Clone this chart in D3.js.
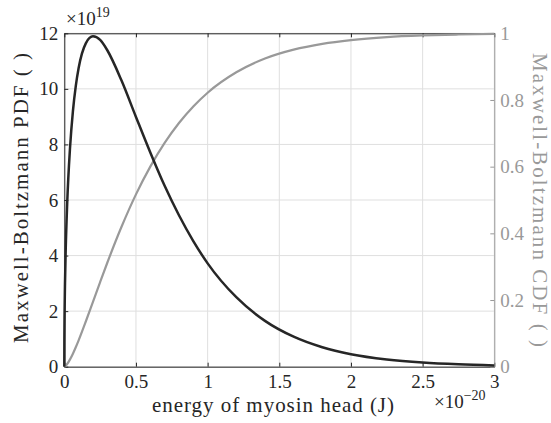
<!DOCTYPE html>
<html>
<head>
<meta charset="utf-8">
<script src="https://cdn.jsdelivr.net/npm/d3@7"></script>
<style>
  body { margin: 0; background: #fff; }
  text { font-family: "Liberation Serif", "DejaVu Serif", serif; }
  .lbl { white-space: pre; }
</style>
</head>
<body>
<div id="chart"></div>
<script>
// energy of myosin head, in units of 1e-20 J
var energy = [0, 0.0005, 0.002, 0.005, 0.01, 0.02, 0.04, 0.06, 0.08, 0.1, 0.15, 0.2, 0.25, 0.3,
  0.4, 0.5, 0.6, 0.7, 0.8, 0.9, 1.0, 1.2, 1.4, 1.6, 1.8, 2.0, 2.25, 2.5, 2.75, 3.0];
// PDF, in units of 1e19
var pdf = [0, 0.97, 1.93, 3.03, 4.24, 5.85, 7.88, 9.19, 10.10, 10.75, 11.64, 11.89, 11.76, 11.39,
  10.29, 8.99, 7.71, 6.51, 5.45, 4.52, 3.72, 2.50, 1.65, 1.08, 0.70, 0.45, 0.26, 0.148, 0.084, 0.047];
var cdf = [0, 0.00003, 0.0003, 0.001, 0.0029, 0.008, 0.0219, 0.039, 0.0584, 0.0792, 0.1356, 0.1946, 0.2538, 0.3118,
  0.4204, 0.5169, 0.6002, 0.6713, 0.7310, 0.7806, 0.8218, 0.8830, 0.9245, 0.9511, 0.9685, 0.9798, 0.9886, 0.9935, 0.9964, 0.998];

var xTicks = [0, 0.5, 1, 1.5, 2, 2.5, 3];
var xTickLabels = ["0", "0.5", "1", "1.5", "2", "2.5", "3"];
var yLeftTicks = [0, 2, 4, 6, 8, 10, 12];
var yRightTicks = [0, 0.2, 0.4, 0.6, 0.8, 1];
var yRightLabels = ["0", "0.2", "0.4", "0.6", "0.8", "1"];

(function() {
  var W = 551, H = 423;
  var pL = 64.3, pR = 494.3, pT = 33.3, pB = 366.7;
  var dark = "#262626", grey = "#999999";

  var svg = d3.select("#chart").append("svg").attr("width", W).attr("height", H);

  var x = d3.scaleLinear().domain([0, 3]).range([pL, pR]);
  var yL = d3.scaleLinear().domain([0, 12]).range([pB, pT]);
  var yR = d3.scaleLinear().domain([0, 1]).range([pB, pT]);

  // grid
  var grid = svg.append("g").attr("stroke", "#dfdfdf").attr("stroke-width", 1);
  grid.selectAll(".gx").data(xTicks).enter().append("line")
    .attr("x1", function(d) { return x(d); }).attr("x2", function(d) { return x(d); })
    .attr("y1", pT).attr("y2", pB);
  grid.selectAll(".gy").data(yLeftTicks).enter().append("line")
    .attr("y1", function(d) { return yL(d); }).attr("y2", function(d) { return yL(d); })
    .attr("x1", pL).attr("x2", pR);

  // bottom axis + mirrored top
  var xAxis = svg.append("g").attr("transform", "translate(0," + pB + ")")
    .call(d3.axisBottom(x).tickValues(xTicks).tickSizeInner(-4).tickSizeOuter(0)
      .tickFormat(function(d, i) { return xTickLabels[i]; }));
  xAxis.select(".domain").attr("stroke", dark);
  xAxis.selectAll(".tick line").attr("stroke", dark);
  xAxis.selectAll(".tick text").attr("fill", dark).attr("font-size", 19).attr("dy", "0.71em").attr("y", 8);

  var xTop = svg.append("g").attr("transform", "translate(0," + pT + ")")
    .call(d3.axisTop(x).tickValues(xTicks).tickSizeInner(-4).tickSizeOuter(0).tickFormat(""));
  xTop.select(".domain").attr("stroke", dark);
  xTop.selectAll(".tick line").attr("stroke", dark);

  // left axis
  var yAxisL = svg.append("g").attr("transform", "translate(" + pL + ",0)")
    .call(d3.axisLeft(yL).tickValues(yLeftTicks).tickSizeInner(-4).tickSizeOuter(0));
  yAxisL.select(".domain").attr("stroke", dark);
  yAxisL.selectAll(".tick line").attr("stroke", dark);
  yAxisL.selectAll(".tick text").attr("fill", dark).attr("font-size", 19).attr("x", -6);

  // right axis
  var yAxisR = svg.append("g").attr("transform", "translate(" + pR + ",0)")
    .call(d3.axisRight(yR).tickValues(yRightTicks).tickSizeInner(-4).tickSizeOuter(0)
      .tickFormat(function(d, i) { return yRightLabels[i]; }));
  yAxisR.select(".domain").attr("stroke", grey);
  yAxisR.selectAll(".tick line").attr("stroke", grey);
  yAxisR.selectAll(".tick text").attr("fill", grey).attr("font-size", 19).attr("x", 6);

  svg.selectAll(".domain").attr("stroke-width", 1);

  // curves
  var pts = energy.map(function(e, i) { return { e: e, p: pdf[i], c: cdf[i] }; });
  var lineC = d3.line().x(function(d) { return x(d.e); }).y(function(d) { return yR(d.c); }).curve(d3.curveMonotoneX);
  var lineP = d3.line().x(function(d) { return x(d.e); }).y(function(d) { return yL(d.p); }).curve(d3.curveMonotoneX);

  svg.append("path").datum(pts).attr("d", lineC).attr("fill", "none")
    .attr("stroke", grey).attr("stroke-width", 2.2);
  svg.append("path").datum(pts).attr("d", lineP).attr("fill", "none")
    .attr("stroke", dark).attr("stroke-width", 2.5);

  // axis labels
  svg.append("text").attr("class", "lbl").attr("transform", "translate(28,198) rotate(-90)")
    .attr("text-anchor", "middle").attr("font-size", 21).attr("fill", dark)
    .attr("textLength", 290).attr("lengthAdjust", "spacing")
    .text("Maxwell-Boltzmann PDF ( )");
  svg.append("text").attr("class", "lbl").attr("transform", "translate(533,200) rotate(90)")
    .attr("text-anchor", "middle").attr("font-size", 21).attr("fill", grey)
    .attr("textLength", 294).attr("lengthAdjust", "spacing")
    .text("Maxwell-Boltzmann CDF ( )");
  svg.append("text").attr("x", 273).attr("y", 412)
    .attr("text-anchor", "middle").attr("font-size", 21).attr("fill", dark)
    .attr("textLength", 242).attr("lengthAdjust", "spacing")
    .text("energy of myosin head (J)");

  // exponent labels
  var e1 = svg.append("text").attr("x", 66).attr("y", 25).attr("font-size", 19).attr("fill", dark);
  e1.append("tspan").text("\u00d710");
  e1.append("tspan").attr("dy", -8).attr("font-size", 14).text("19");
  var e2 = svg.append("text").attr("x", 434).attr("y", 408).attr("font-size", 19).attr("fill", dark);
  e2.append("tspan").text("\u00d710");
  e2.append("tspan").attr("dy", -8).attr("font-size", 14).text("\u221220");
})();
</script>
</body>
</html>
